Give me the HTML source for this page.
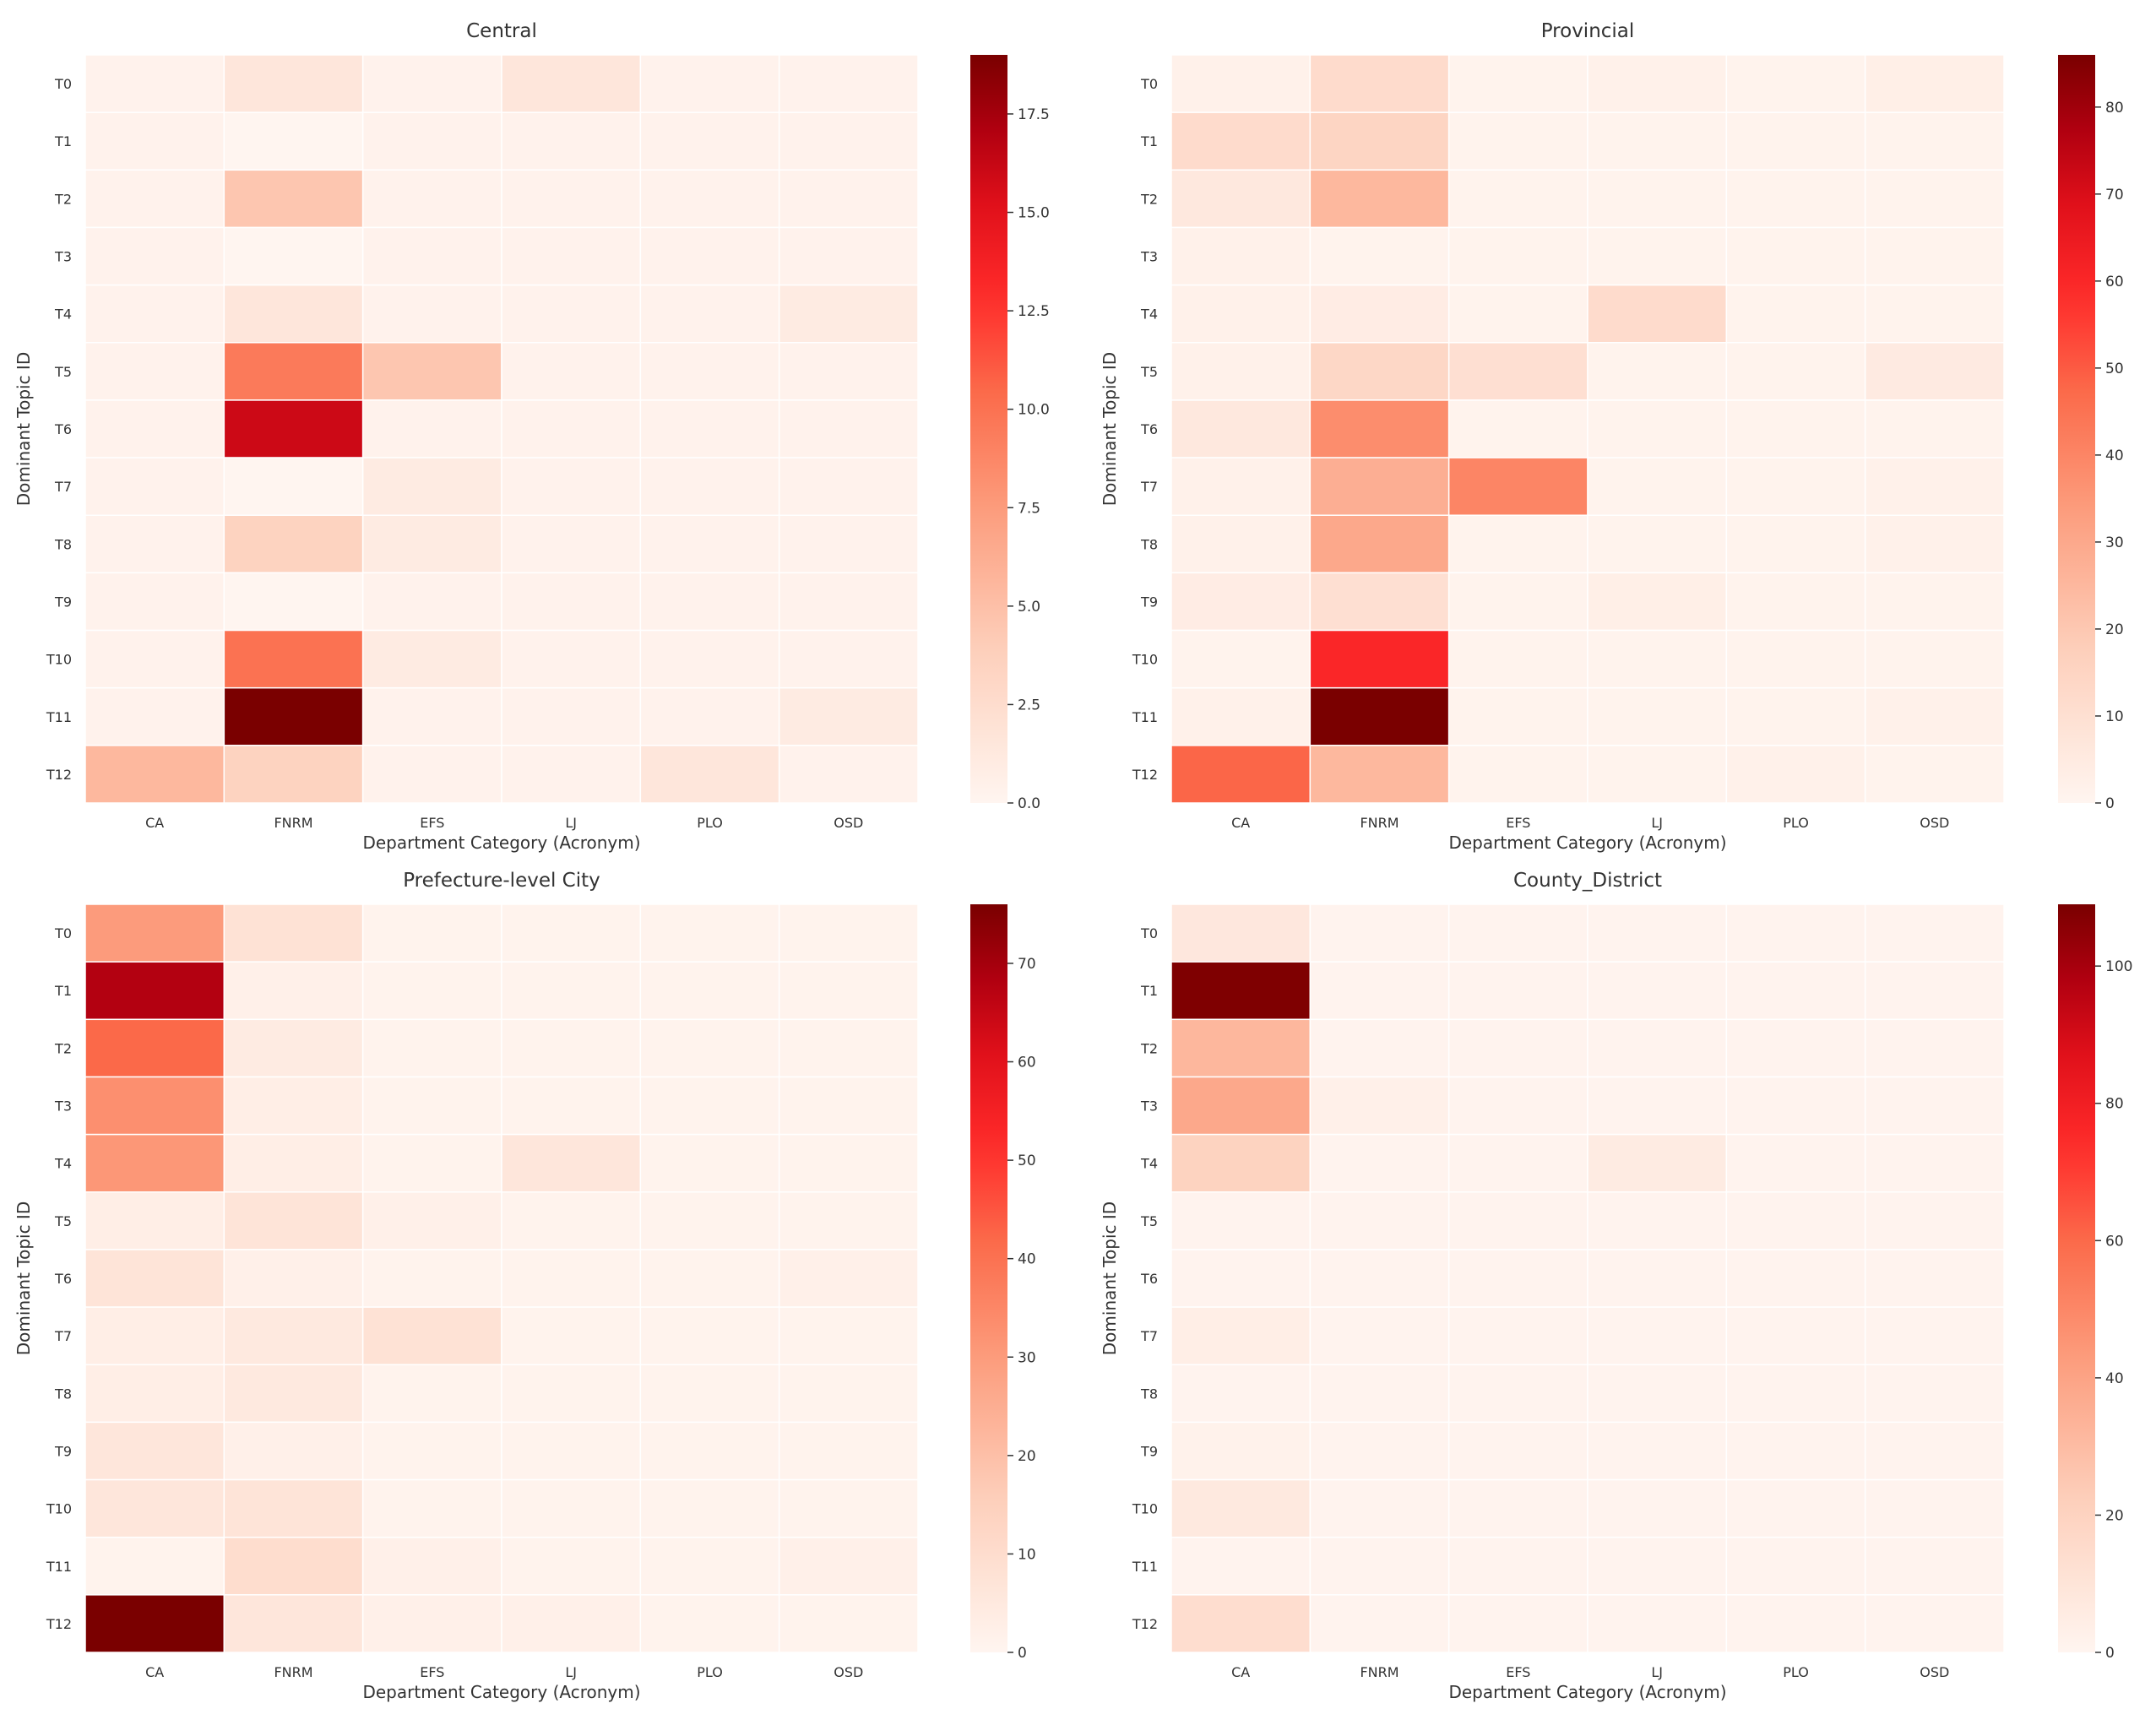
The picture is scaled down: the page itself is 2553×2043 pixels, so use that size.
<!DOCTYPE html>
<html><head><meta charset="utf-8"><style>
html,body{margin:0;padding:0;background:#fff;}
svg{display:block;font-family:"DejaVu Sans","Liberation Sans",sans-serif;}
</style></head><body>
<svg id="fig" width="2553" height="2043" viewBox="0 0 2553 2043" xmlns="http://www.w3.org/2000/svg"></svg>
<script>
const categories = ["CA","FNRM","EFS","LJ","PLO","OSD"];
const topics = ["T0","T1","T2","T3","T4","T5","T6","T7","T8","T9","T10","T11","T12"];
const centralValues = [
 [0.3,1.5,0.3,1.5,0.3,0.3],[0.3,0,0.3,0.3,0.3,0.3],[0.3,4.5,0.3,0.3,0.3,0.3],[0.3,0,0.3,0.3,0.3,0.3],
 [0.3,1.5,0.3,0.3,0.3,1],[0.3,9.5,4.5,0.3,0.3,0.3],[0.3,16,0.3,0.3,0.3,0.3],[0.3,0,1,0.3,0.3,0.3],
 [0.3,3.5,1,0.3,0.3,0.3],[0.3,0,0.3,0.3,0.3,0.3],[0.3,10,1,0.3,0.3,0.3],[0.3,19,0.3,0.3,0.3,1],
 [5.5,3.5,0.3,0.3,1.5,0.3]];
const provincialValues = [
 [2,12,1,2,1,3],[12,15,1,1,1,1],[6,25,1,1,1,1],[2,1,1,1,1,1],[2,4,1,12,1,1],[2,14,10,1,1,5],
 [6,38,1,1,1,1],[2,28,40,1,1,2],[2,30,1,1,1,2],[4,10,1,3,1,1],[1,60,1,1,1,1],[2,86,1,1,1,2],[48,25,1,1,2,1]];
const prefectureValues = [
 [30,8,1,1,1,1],[68,2,1,1,1,1],[42,4,1,1,1,1],[33,3,1,1,1,1],[31,3,1,6,1,1],[3,7,2,1,1,1],
 [7,2,1,1,1,2],[3,5,8,1,1,1],[3,5,1,1,1,1],[6,2,1,1,1,1],[6,7,1,1,1,1],[1,10,2,1,1,2],[76,6,2,2,1,1]];
const countyValues = [
 [8,1,1,1,1,1],[108,1,1,1,1,1],[32,1,1,1,1,1],[38,3,1,1,1,1],[20,1,1,6,1,1],[1,1,1,1,1,1],
 [1,1,1,1,1,1],[4,1,1,1,1,1],[1,1,1,1,1,1],[2,1,1,1,1,1],[7,1,1,1,1,1],[1,1,1,1,1,1],[14,1,1,1,1,1]];
const centralTicks = [0,2.5,5,7.5,10,12.5,15,17.5];
const provincialTicks = [0,10,20,30,40,50,60,70,80];
const prefectureTicks = [0,10,20,30,40,50,60,70];
const countyTicks = [0,20,40,60,80,100];
const vmaxes = [19,86,76,109];

const NS="http://www.w3.org/2000/svg";
const svg=document.getElementById('fig');
function el(tag,attrs,parent){const e=document.createElementNS(NS,tag);for(const k in attrs)e.setAttribute(k,attrs[k]);(parent||svg).appendChild(e);return e;}
const stops=[[0,[255,245,240]],[0.2,[253,208,188]],[0.4,[252,154,122]],[0.55,[251,106,74]],[0.68,[255,42,42]],[0.8,[224,16,26]],[0.9,[176,0,16]],[1,[122,0,0]]];
function cmap(t){t=Math.max(0,Math.min(1,t));for(let i=1;i<stops.length;i++){if(t<=stops[i][0]){const a=stops[i-1],b=stops[i];const f=(t-a[0])/(b[0]-a[0]);const c=a[1].map((v,j)=>Math.round(v+(b[1][j]-v)*f));return `rgb(${c[0]},${c[1]},${c[2]})`;}}return 'rgb(122,0,0)';}
const defs=el('defs',{});
const grad=el('linearGradient',{id:'cg',x1:0,y1:1,x2:0,y2:0},defs);
for(let i=0;i<=20;i++){el('stop',{offset:i/20,'stop-color':cmap(i/20)},grad);}

const panels=[
 {name:'central',title:'Central',vals:centralValues,ticks:centralTicks,vmax:vmaxes[0],x0:101,y0:65,cb:1149,fmt:v=>v.toFixed(1)},
 {name:'provincial',title:'Provincial',vals:provincialValues,ticks:provincialTicks,vmax:vmaxes[1],x0:1387,y0:65,cb:2437,fmt:v=>String(v)},
 {name:'prefecture',title:'Prefecture-level City',vals:prefectureValues,ticks:prefectureTicks,vmax:vmaxes[2],x0:101,y0:1071,cb:1149,fmt:v=>String(v)},
 {name:'county',title:'County_District',vals:countyValues,ticks:countyTicks,vmax:vmaxes[3],x0:1387,y0:1071,cb:2437,fmt:v=>String(v)}
];
const W=986,H=886;
panels.forEach(p=>{
 const g=el('g',{});
 
 
 const cw=W/categories.length, ch=H/topics.length;
 const xs=i=>p.x0+i*cw, ys=j=>p.y0+j*ch;
 topics.forEach((t,r)=>{categories.forEach((c,ci)=>{
   const rect=el('rect',{x:xs(ci),y:ys(r),width:cw,height:ch,fill:cmap(p.vals[r][ci]/p.vmax),stroke:'#fff','stroke-width':1.5},g);
   
   
 });});
 const tt=el('text',{x:p.x0+W/2,y:p.y0-21,'text-anchor':'middle','font-size':23,fill:'#333'},g);tt.textContent=p.title;
 
 topics.forEach((t,r)=>{const tx=el('text',{x:p.x0-16,y:ys(r)+ch/2+6,'text-anchor':'end','font-size':16,fill:'#333'},g);tx.textContent=t;
   });
 categories.forEach((c,ci)=>{const tx=el('text',{x:xs(ci)+cw/2,y:p.y0+H+29,'text-anchor':'middle','font-size':16,fill:'#333'},g);tx.textContent=c;
   });
 const xl=el('text',{x:p.x0+W/2,y:p.y0+H+54,'text-anchor':'middle','font-size':20,fill:'#333'},g);xl.textContent='Department Category (Acronym)';
 
 const yx=p.x0-66, yy=p.y0+H/2;
 const yl=el('text',{x:yx,y:yy,'text-anchor':'middle','font-size':20,fill:'#333',transform:`rotate(-90 ${yx} ${yy})`},g);yl.textContent='Dominant Topic ID';
 
 const cb=el('rect',{x:p.cb,y:p.y0,width:44,height:H,fill:'url(#cg)'},g);
 
 const cy=v=>p.y0+H-(v/p.vmax)*H;
 p.ticks.forEach(v=>{el('line',{x1:p.cb+44,x2:p.cb+51,y1:cy(v),y2:cy(v),stroke:'#333','stroke-width':1.5},g);
   const tx=el('text',{x:p.cb+56,y:cy(v)+6,'font-size':17,fill:'#333'},g);tx.textContent=p.fmt(v);
   });
});
</script>
</body></html>
